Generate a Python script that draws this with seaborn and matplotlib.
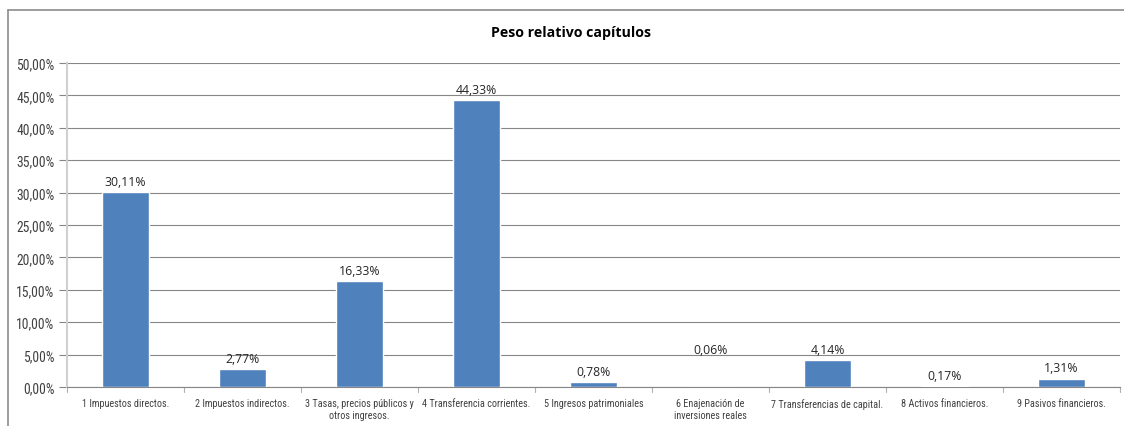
import matplotlib
matplotlib.use("Agg")
import matplotlib.pyplot as plt
import seaborn as sns
import pandas as pd
from matplotlib.lines import Line2D
from matplotlib.transforms import blended_transform_factory
from matplotlib import font_manager

categories = [
    "1 Impuestos directos.",
    "2 Impuestos indirectos.",
    "3 Tasas, precios públicos y\notros ingresos.",
    "4 Transferencia corrientes.",
    "5 Ingresos patrimoniales",
    "6 Enajenación de\ninversiones reales",
    "7 Transferencias de capital.",
    "8 Activos financieros.",
    "9 Pasivos financieros.",
]
values = [30.11, 2.77, 16.33, 44.33, 0.78, 0.06, 4.14, 0.17, 1.31]
yticks = [0, 5, 10, 15, 20, 25, 30, 35, 40, 45, 50]
title = "Peso relativo capítulos"

sns.set_theme(style="white")
plt.rcParams['font.family'] = ['DejaVu Sans']

names = sorted({f.name for f in font_manager.fontManager.ttflist})
narrow = None
for cand in ["Liberation Sans Narrow", "Roboto Condensed", "Open Sans Condensed", "DejaVu Sans Condensed"]:
    if cand in names:
        narrow = cand
        break
if narrow is None:
    narrow_kw = dict(family="DejaVu Sans", fontstretch="condensed")
else:
    narrow_kw = dict(family=narrow)

df = pd.DataFrame({"cat": categories, "val": values})

fig = plt.figure(figsize=(11.24, 4.27), dpi=100)
ax = fig.add_axes([67/1124, 39/427, 1053/1124, 324/427])

sns.barplot(data=df, x="cat", y="val", color="#4F81BD", saturation=1,
            width=0.4, ax=ax, zorder=3)

ax.set_ylim(0, 50)
ax.set_xlim(-0.5, len(categories) - 0.5)
ax.set_yticks(yticks)
ax.set_yticklabels([f"{t:.2f}%".replace(".", ",") for t in yticks],
                   fontsize=9.8, color="#404040", **narrow_kw)
ax.set_xticks(range(len(categories)))
ax.set_xticklabels(categories, fontsize=7.3, color="#404040", linespacing=1.2, **narrow_kw)
ax.tick_params(axis="x", length=0, pad=8)
ax.tick_params(axis="y", length=6, width=0.8, color="#868686", pad=3, left=True)
ax.set_xlabel("")
ax.set_ylabel("")

ax.yaxis.grid(True, color="#868686", linewidth=0.8, zorder=0)
ax.set_axisbelow(True)
for s in ["top", "right"]:
    ax.spines[s].set_visible(False)
ax.spines["left"].set_color("#d0d0d0")
ax.spines["left"].set_linewidth(1.5)
ax.spines["bottom"].set_color("#868686")
ax.spines["bottom"].set_linewidth(0.8)

tr = blended_transform_factory(ax.transData, ax.transAxes)
for i in range(len(categories) + 1):
    ax.add_line(Line2D([i - 0.5, i - 0.5], [0, -0.015], transform=tr,
                       color="#b0b0b0", linewidth=0.8, clip_on=False))

# data labels
label_y = list(values)
label_y[5] = values[6]
for i, (v, ly) in enumerate(zip(values, label_y)):
    ax.annotate(f"{v:.2f}%".replace(".", ","), (i, ly), xytext=(0, 3),
                textcoords="offset points", ha="center", va="bottom",
                fontsize=8.8, color="#262626", family=['Open Sans', 'DejaVu Sans'])

fig.text(571/1124, 1 - 33/427, title, ha="center", va="center",
         fontsize=10.2, fontweight="bold", color="#000000",
         family=['Open Sans', 'DejaVu Sans'])

fig.add_artist(Line2D([8/1124, 8/1124], [0, 1 - 11/427], transform=fig.transFigure,
                      color="#8c8c8c", linewidth=1.2))
fig.add_artist(Line2D([8/1124, 1], [1 - 11/427, 1 - 11/427], transform=fig.transFigure,
                      color="#8c8c8c", linewidth=1.2))

fig.savefig("out.png", dpi=100)
